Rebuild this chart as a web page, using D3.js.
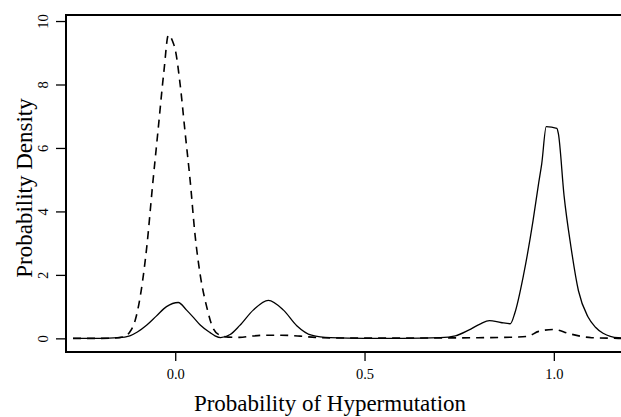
<!DOCTYPE html>
<html>
<head>
<meta charset="utf-8">
<script src="https://cdn.jsdelivr.net/npm/d3@7"></script>
<style>
  body { margin: 0; background: #fff; }
  text { font-family: "Liberation Serif", "Times New Roman", serif; fill: #000; }
</style>
</head>
<body>
<div id="chart"></div>
<script>
// x ticks / y ticks
const xTicks = [0, 0.5, 1.0];
const yTicks = [0, 2, 4, 6, 8, 10];

// solid curve
const solidProb = [-0.27, -0.2, -0.15, -0.12, -0.1, -0.075, -0.05, -0.023, 0.008, 0.03, 0.048, 0.066, 0.092, 0.105, 0.12, 0.145, 0.17, 0.206, 0.246, 0.286, 0.321, 0.36, 0.41, 0.5, 0.6, 0.7, 0.74, 0.775, 0.805, 0.83, 0.86, 0.885, 0.897, 0.92, 0.945, 0.96, 0.968, 0.98, 1.008, 1.012, 1.027, 1.045, 1.065, 1.09, 1.11, 1.13, 1.17, 1.254];
const solidDens = [0, 0, 0.02, 0.08, 0.2, 0.42, 0.7, 1.0, 1.13, 0.89, 0.66, 0.42, 0.18, 0.08, 0.02, 0.12, 0.4, 0.89, 1.2, 0.89, 0.4, 0.1, 0.02, 0.0, 0.0, 0.02, 0.08, 0.26, 0.45, 0.56, 0.5, 0.46, 0.8, 2.0, 3.7, 4.9, 5.5, 6.67, 6.62, 6.45, 4.5, 2.9, 1.5, 0.68, 0.35, 0.16, 0.02, 0.0];

// dashed curve
const dashProb = [-0.27, -0.2, -0.16, -0.135, -0.12, -0.105, -0.09, -0.075, -0.06, -0.045, -0.03, -0.018, -0.005, 0.0, 0.013, 0.026, 0.04, 0.052, 0.066, 0.083, 0.1, 0.118, 0.14, 0.17, 0.2, 0.24, 0.28, 0.33, 0.37, 0.44, 0.6, 0.8, 0.9, 0.93, 0.96, 1.0, 1.04, 1.1, 1.17, 1.254];
const dashDens = [0, 0, 0.01, 0.05, 0.2, 0.6, 1.5, 2.9, 4.8, 6.6, 8.4, 9.56, 9.3, 9.1, 8.0, 6.5, 4.9, 3.3, 2.0, 1.0, 0.32, 0.1, 0.04, 0.03, 0.07, 0.1, 0.1, 0.07, 0.03, 0.01, 0.01, 0.02, 0.04, 0.06, 0.22, 0.28, 0.15, 0.02, 0.0, -0.02];

const width = 621, height = 417;
const box = { left: 66, top: 15, bottom: 352, right: 650 };

const svg = d3.select('#chart')
    .append('svg')
    .attr('width', width)
    .attr('height', height);

const xScale = d3.scaleLinear()
    .domain([-0.2885, 1.254])
    .range([box.left, box.right]);
const yScale = d3.scaleLinear()
    .domain([-0.43, 10.19])
    .range([box.bottom, box.top]);

// box
svg.append('rect')
    .attr('x', box.left)
    .attr('y', box.top)
    .attr('width', box.right - box.left)
    .attr('height', box.bottom - box.top)
    .attr('fill', 'none')
    .attr('stroke', '#000')
    .attr('stroke-width', 2);

// axes
const xAxis = d3.axisBottom(xScale)
    .tickValues(xTicks)
    .tickSize(9)
    .tickFormat(d3.format('.1f'));
const xg = svg.append('g')
    .attr('transform', `translate(0, ${box.bottom})`)
    .call(xAxis);
xg.select('.domain').remove();
xg.selectAll('line').attr('stroke-width', 1.3);
xg.selectAll('text')
    .attr('y', 0)
    .attr('dy', null)
    .attr('transform', 'translate(0,27)')
    .style('font-size', '14.5px')
    .style('font-family', '"Liberation Serif", serif');

const yAxis = d3.axisLeft(yScale)
    .tickValues(yTicks)
    .tickSize(10);
const yg = svg.append('g')
    .attr('transform', `translate(${box.left}, 0)`)
    .call(yAxis);
yg.select('.domain').remove();
yg.selectAll('line').attr('stroke-width', 1.3);
yg.selectAll('text')
    .attr('x', 0)
    .attr('dy', null)
    .attr('text-anchor', 'middle')
    .attr('transform', 'translate(-18,0) rotate(-90)')
    .style('font-size', '14.5px')
    .style('font-family', '"Liberation Serif", serif');

// curves
const line = d3.line()
    .x(d => xScale(d[0]))
    .y(d => yScale(d[1]))
    .curve(d3.curveMonotoneX);

const clip = svg.append('clipPath').attr('id', 'plotClip')
    .append('rect')
    .attr('x', box.left).attr('y', box.top)
    .attr('width', box.right - box.left).attr('height', box.bottom - box.top);

const solid = d3.zip(solidProb, solidDens);
const dashed = d3.zip(dashProb, dashDens);

svg.append('path')
    .datum(solid)
    .attr('d', line)
    .attr('fill', 'none')
    .attr('stroke', '#000')
    .attr('stroke-width', 1.3)
    .attr('clip-path', 'url(#plotClip)');

svg.append('path')
    .datum(dashed)
    .attr('d', line)
    .attr('fill', 'none')
    .attr('stroke', '#000')
    .attr('stroke-width', 1.6)
    .attr('stroke-dasharray', '8,6')
    .attr('clip-path', 'url(#plotClip)');

// titles
svg.append('text')
    .attr('x', 330)
    .attr('y', 411)
    .attr('text-anchor', 'middle')
    .style('font-size', '23px')
    .text('Probability of Hypermutation');

svg.append('text')
    .attr('transform', 'translate(32, 188) rotate(-90)')
    .attr('text-anchor', 'middle')
    .style('font-size', '23px')
    .text('Probability Density');
</script>
</body>
</html>
